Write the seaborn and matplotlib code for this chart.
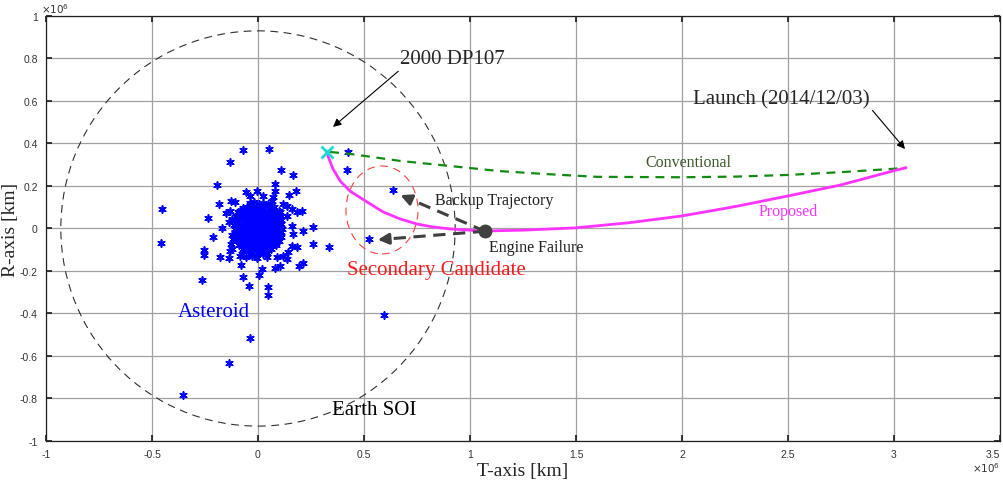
import numpy as np
import pandas as pd
import matplotlib
matplotlib.use('Agg')
import matplotlib.pyplot as plt
from matplotlib.patches import Circle, Ellipse
import seaborn as sns

# asteroid candidates, (T, R) in 1e3 km
asteroid_pts = [
    # scattered outliers
    (-69, 369), (53, 374), (-132, 311), (107, 277), (167, 253), (-195, 206), (79, 209), (79, 178),
    (179, 175), (148, 159), (-451, 92), (-186, 117), (-237, 49), (-171, 2), (261, 8), (211, -13),
    (-214, -42), (-456, -68), (258, -75), (336, -89), (-253, -103), (-253, -125), (-179, -136),
    (-135, -140), (-82, -172), (6, -217), (17, -191), (79, -188), (104, -178), (192, -175),
    (211, -162), (-266, -241), (-69, -227), (-44, -272), (47, -277), (47, -311), (596, -407),
    (-36, -514), (-135, -632), (-352, -784), (425, 360), (420, 275), (637, 181), (524, -49),
    # ring around the core
    (-57, 170), (-6, 178), (-38, 155), (-129, 131), (-108, 123), (-85, 84), (-132, 84), (-151, 71),
    (-124, 45), (-135, 29), (-124, -31), (-116, -49), (-129, -73), (-124, -97), (-132, -104),
    (-77, -120), (-85, -128), (-57, -136), (-30, -128), (-6, -140), (41, -136), (88, -136),
    (119, -128), (135, -144), (143, -112), (182, -89), (159, -81), (166, -26), (159, 13), (135, 60),
    (159, 92), (182, 76), (206, 84), (135, 108), (119, 115), (72, 147), (64, 131), (25, 155), (104, 76),
    # dense core
    (-40, 118), (-18, 123), (4, 116), (26, 121), (45, 117),
    (-72, 98), (-50, 103), (-28, 97), (-6, 102), (16, 99), (38, 104), (60, 97), (76, 101),
    (-92, 78), (-70, 83), (-48, 77), (-26, 82), (-4, 79), (18, 84), (40, 78), (62, 82), (84, 77), (98, 81),
    (-104, 58), (-82, 63), (-60, 57), (-38, 62), (-16, 59), (6, 63), (28, 57), (50, 62), (72, 58),
    (94, 61), (108, 57),
    (-110, 38), (-88, 43), (-66, 37), (-44, 42), (-22, 39), (0, 43), (22, 37), (44, 42), (66, 38),
    (88, 41), (110, 39),
    (-112, 18), (-90, 23), (-68, 17), (-46, 22), (-24, 19), (-2, 23), (20, 17), (42, 22), (64, 18),
    (86, 21), (108, 19),
    (-108, -2), (-86, 3), (-64, -3), (-42, 2), (-20, -1), (2, 3), (24, -3), (46, 2), (68, -2),
    (90, 1), (112, -1),
    (-110, -18), (-88, -23), (-66, -19), (-44, -22), (-22, -17), (0, -21), (22, -18), (44, -23),
    (66, -19), (88, -22), (108, -18),
    (-106, -38), (-84, -43), (-62, -37), (-40, -42), (-18, -39), (4, -43), (26, -37), (48, -42),
    (70, -38), (92, -41), (110, -39),
    (-100, -58), (-78, -63), (-56, -57), (-34, -62), (-12, -59), (10, -63), (32, -57), (54, -62),
    (76, -58), (98, -61),
    (-90, -78), (-68, -83), (-46, -77), (-24, -82), (-2, -79), (20, -83), (42, -77), (64, -82), (86, -78),
    (-70, -98), (-48, -103), (-26, -97), (-4, -102), (18, -99), (40, -103), (62, -97),
    (-40, -118), (-18, -123), (4, -117), (26, -121), (44, -116),
    (-77, 50), (-33, 30), (11, 10), (55, -10), (-55, -30), (33, -50), (-11, -70), (77, 30),
    (-99, 10), (99, -30), (-30, 90), (30, 70), (0, -90), (-60, -90), (60, -70), (-80, -40),
    (80, 50), (10, -10), (-10, 10), (40, 10), (-50, 10), (-20, 60), (20, 45), (60, 25),
    (-75, -10), (-35, -50), (15, -45), (50, -45), (85, -50), (-90, 60), (-5, 30), (25, -90),
]

# trajectories, in 1e6 km
proposed_t = [0.33, 0.354, 0.387, 0.434, 0.514, 0.59, 0.67, 0.75, 0.825, 0.906, 0.986, 1.06,
              1.25, 1.5, 1.75, 2.0, 2.25, 2.5, 2.75, 3.0, 3.057]
proposed_r = [0.341, 0.28, 0.224, 0.176, 0.125, 0.078, 0.045, 0.021, 0.007, -0.002, -0.007, -0.012,
              -0.008, 0.003, 0.027, 0.059, 0.103, 0.153, 0.205, 0.272, 0.286]
conventional_t = [0.34, 0.434, 0.67, 0.906, 1.14, 1.36, 1.6, 2.0, 2.25, 2.5, 2.75, 3.0, 3.057]
conventional_r = [0.36, 0.351, 0.318, 0.294, 0.27, 0.256, 0.243, 0.241, 0.244, 0.252, 0.265, 0.281, 0.286]

target = (0.325, 0.362)          # 2000 DP107
launch = (3.057, 0.286)
engine_failure = (1.071, -0.013)
backup_targets = [(0.66, 0.162), (0.552, -0.054)]
soi_radius = 0.93
candidate_center = (0.585, 0.087)
candidate_size = (0.34, 0.414)

xticks = [-1, -0.5, 0, 0.5, 1, 1.5, 2, 2.5, 3, 3.5]
xtick_labels = ['-1', '-0.5', '0', '0.5', '1', '1.5', '2', '2.5', '3', '3.5']
yticks = [-1, -0.8, -0.6, -0.4, -0.2, 0, 0.2, 0.4, 0.6, 0.8, 1]
ytick_labels = ['-1', '-0.8', '-0.6', '-0.4', '-0.2', '0', '0.2', '0.4', '0.6', '0.8', '1']

M = 1e6
serif = 'Liberation Serif'

sns.set_theme(style='whitegrid', rc={
    'grid.color': '#a0a0a0', 'grid.linewidth': 0.9,
    'axes.edgecolor': '#202020', 'axes.linewidth': 0.9,
    'xtick.direction': 'in', 'ytick.direction': 'in',
    'xtick.top': True, 'ytick.right': True,
    'xtick.bottom': True, 'ytick.left': True,
    'xtick.major.size': 4, 'ytick.major.size': 4,
    'xtick.color': '#202020', 'ytick.color': '#202020',
})
plt.rcParams['font.family'] = ['Liberation Sans', 'DejaVu Sans']

fig = plt.figure(figsize=(10.04, 4.85), dpi=100)
ax = fig.add_axes([0.0458, 0.0887, 0.9502, 0.8763])

ast = pd.DataFrame(asteroid_pts, columns=['t', 'r']) * 1e3
prop = pd.DataFrame({'t': np.array(proposed_t) * M, 'r': np.array(proposed_r) * M})
conv = pd.DataFrame({'t': np.array(conventional_t) * M, 'r': np.array(conventional_r) * M})

ax.add_patch(Circle((0, 0), soi_radius * M, fill=False, ec='#303030', lw=0.8,
                    ls=(0, (7, 5)), zorder=2))
ax.add_patch(Ellipse((candidate_center[0] * M, candidate_center[1] * M),
                     candidate_size[0] * M, candidate_size[1] * M, fill=False,
                     ec='#ff4040', lw=0.8, ls=(0, (7, 5)), zorder=2))

sns.scatterplot(data=ast, x='t', y='r', marker=(6, 2, 0), color='blue', s=26,
                linewidth=1.2, ax=ax, zorder=3)

sns.lineplot(data=conv, x='t', y='r', sort=False, estimator=None, color='#138a13',
             lw=1.6, ax=ax, zorder=4)
ax.lines[-1].set_linestyle((0, (4, 3)))
sns.lineplot(data=prop, x='t', y='r', sort=False, estimator=None, color='#ff33ff',
             lw=2.0, ax=ax, zorder=5)

ax.plot(target[0] * M, target[1] * M, marker='x', color='#1fd6d6', ms=8, mew=2, zorder=7)
ax.plot(engine_failure[0] * M, engine_failure[1] * M, marker='o', color='#404040',
        ms=9, zorder=7)

# backup trajectories: dashed shaft + arrow head
for bt, br in backup_targets:
    ex, ey = engine_failure[0] * M, engine_failure[1] * M
    tx, ty = bt * M, br * M
    ax.plot([ex, tx + (ex - tx) * 0.08], [ey, ty + (ey - ty) * 0.08], color='#404040',
            lw=2.2, ls=(0, (4, 2.5)), zorder=6)
    ax.annotate('', xy=(tx, ty), xytext=(tx + (ex - tx) * 0.15, ty + (ey - ty) * 0.15),
                arrowprops=dict(arrowstyle='-|>', color='#404040', lw=2.2,
                                mutation_scale=16), zorder=6)

ax.annotate('2000 DP107', xy=(0.354 * M, 0.478 * M), xytext=(0.67 * M, 0.80 * M),
            fontsize=15, family=serif, va='center', ha='left',
            arrowprops=dict(arrowstyle='-|>', color='black', lw=0.8, mutation_scale=12,
                            shrinkA=0, shrinkB=0, relpos=(0.02, 0.0)))
ax.annotate('Launch (2014/12/03)', xy=(3.052 * M, 0.374 * M), xytext=(2.05 * M, 0.61 * M),
            fontsize=15, family=serif, va='center', ha='left',
            arrowprops=dict(arrowstyle='-|>', color='black', lw=0.8, mutation_scale=12,
                            shrinkA=0, shrinkB=0, relpos=(1.0, 0.1)))

ax.text(2.03 * M, 0.313 * M, 'Conventional', fontsize=11.5, family=serif, color='#3b5a2a',
        ha='center', va='center')
ax.text(2.5 * M, 0.082 * M, 'Proposed', fontsize=11.5, family=serif, color='#ff33ff',
        ha='center', va='center')
ax.text(0.835 * M, 0.134 * M, 'Backup Trajectory', fontsize=11.5, family=serif,
        color='#202020', ha='left', va='center')
ax.text(1.09 * M, -0.087 * M, 'Engine Failure', fontsize=11.5, family=serif,
        color='#202020', ha='left', va='center')
ax.text(0.42 * M, -0.195 * M, 'Secondary Candidate', fontsize=15, family=serif,
        color='#ff1a1a', ha='left', va='center')
ax.text(-0.38 * M, -0.39 * M, 'Asteroid', fontsize=15, family=serif, color='blue',
        ha='left', va='center')
ax.text(0.35 * M, -0.85 * M, 'Earth SOI', fontsize=15, family=serif, color='black',
        ha='left', va='center')

ax.set_xlim(-1 * M, 3.5 * M)
ax.set_ylim(-1 * M, 1 * M)
ax.set_xticks([v * M for v in xticks])
ax.set_xticklabels(xtick_labels)
ax.set_yticks([v * M for v in yticks])
ax.set_yticklabels(ytick_labels)
ax.tick_params(labelsize=7.5, labelcolor='#333333', pad=6)
ax.get_xticklabels()[-1].set_horizontalalignment('right')
ax.set_xlabel('T-axis [km]', fontsize=14, family=serif, labelpad=2)
ax.set_ylabel('R-axis [km]', fontsize=14, family=serif)
ax.yaxis.set_label_coords(-0.028, 0.5)
for s in ax.spines.values():
    s.set_visible(True)

ax.text(-0.005, 1.003, r'$\times10^6$', transform=ax.transAxes, fontsize=7.5,
        color='#333333', ha='left', va='bottom')
ax.text(1.0, -0.045, r'$\times10^6$', transform=ax.transAxes, fontsize=7.5,
        color='#333333', ha='right', va='top')

fig.savefig('out.png', dpi=100)
